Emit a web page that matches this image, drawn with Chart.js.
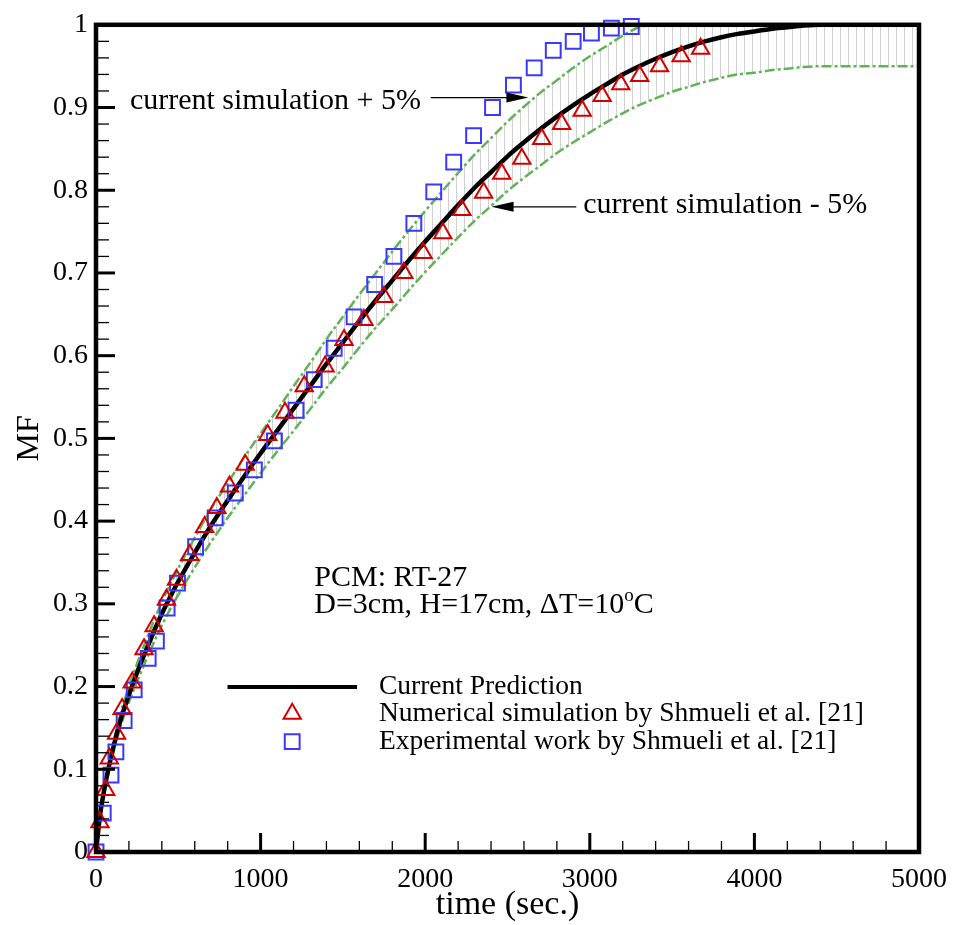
<!DOCTYPE html>
<html>
<head>
<meta charset="utf-8">
<script src="https://cdn.jsdelivr.net/npm/chart.js@4.4.1/dist/chart.umd.min.js"></script>
<style>
  body { margin: 0; background: #fff; }
</style>
</head>
<body>
<canvas id="mfChart" width="958" height="925"></canvas>
<script>
// current prediction (black curve), time in sec.
var predTime = [0, 25, 50, 75, 100, 150, 200, 250, 300, 400, 500, 600, 700, 800, 900, 1000,
  1100, 1200, 1300, 1400, 1500, 1600, 1700, 1800, 1900, 2000, 2100, 2200, 2300, 2400, 2500,
  2600, 2700, 2800, 2900, 3000, 3100, 3200, 3300, 3400, 3500, 3600, 3700, 3800, 3900, 4000,
  4100, 4200, 4300, 4400, 4500, 5000];
var predMF = [0, 0.045, 0.075, 0.1, 0.122, 0.16, 0.19, 0.217, 0.242, 0.288, 0.327, 0.362, 0.395,
  0.425, 0.454, 0.482, 0.509, 0.536, 0.563, 0.59, 0.616, 0.642, 0.667, 0.691, 0.715, 0.738,
  0.76, 0.782, 0.803, 0.822, 0.841, 0.858, 0.874, 0.889, 0.903, 0.916, 0.928, 0.94, 0.95,
  0.959, 0.967, 0.974, 0.98, 0.985, 0.989, 0.992, 0.995, 0.997, 0.999, 1, 1, 1];
// current simulation + 5% / - 5%
var upperMF = [0, 0.047, 0.079, 0.105, 0.128, 0.168, 0.2, 0.228, 0.254, 0.302, 0.343, 0.38, 0.415,
  0.446, 0.477, 0.506, 0.534, 0.563, 0.591, 0.62, 0.647, 0.674, 0.7, 0.726, 0.751, 0.775,
  0.798, 0.821, 0.843, 0.863, 0.883, 0.901, 0.918, 0.933, 0.948, 0.962, 0.974, 0.987, 0.997,
  1, 1, 1, 1, 1, 1, 1, 1, 1, 1, 1, 1, 1];
var lowerMF = [0, 0.043, 0.071, 0.095, 0.116, 0.152, 0.181, 0.206, 0.23, 0.274, 0.311, 0.344, 0.375,
  0.404, 0.431, 0.458, 0.484, 0.509, 0.535, 0.561, 0.585, 0.61, 0.634, 0.656, 0.679, 0.701,
  0.722, 0.743, 0.763, 0.781, 0.799, 0.815, 0.83, 0.845, 0.858, 0.87, 0.882, 0.893, 0.903,
  0.911, 0.919, 0.925, 0.931, 0.936, 0.94, 0.942, 0.945, 0.947, 0.949, 0.95, 0.95, 0.95];

// Numerical simulation by Shmueli et al. [21]
var numTime = [0, 24, 59, 81, 125, 159, 220, 292, 353, 428, 489, 569, 660, 734, 811, 906, 1043,
  1148, 1265, 1392, 1507, 1628, 1749, 1870, 1987, 2107, 2223, 2355, 2465, 2587, 2708, 2829,
  2954, 3075, 3188, 3303, 3424, 3555, 3673];
var numMF = [0, 0.036, 0.075, 0.113, 0.143, 0.173, 0.205, 0.245, 0.273, 0.305, 0.329, 0.359,
  0.393, 0.416, 0.442, 0.468, 0.504, 0.531, 0.563, 0.587, 0.619, 0.643, 0.671, 0.7, 0.724,
  0.748, 0.776, 0.797, 0.82, 0.838, 0.862, 0.88, 0.896, 0.914, 0.928, 0.938, 0.95, 0.962, 0.971];

// Experimental work by Shmueli et al. [21]
var expTime = [0, 44, 91, 121, 171, 232, 317, 367, 432, 495, 605, 724, 846, 962, 1084, 1215, 1326,
  1447, 1568, 1693, 1810, 1931, 2052, 2173, 2294, 2409, 2536, 2662, 2778, 2899, 3010, 3131, 3252];
var expMF = [0, 0.047, 0.093, 0.121, 0.159, 0.196, 0.234, 0.255, 0.295, 0.325, 0.369, 0.404,
  0.434, 0.462, 0.497, 0.534, 0.571, 0.609, 0.647, 0.686, 0.72, 0.76, 0.798, 0.834, 0.866,
  0.9, 0.927, 0.948, 0.969, 0.98, 0.99, 0.996, 0.998];

var xTicks = [0, 1000, 2000, 3000, 4000, 5000];
var yTicks = [0, 0.1, 0.2, 0.3, 0.4, 0.5, 0.6, 0.7, 0.8, 0.9, 1];

var serif = '"Liberation Serif", "Times New Roman", serif';

function toPoints(xs, ys) {
  return xs.map(function(x, i) { return { x: x, y: ys[i] }; });
}

var canvas = document.getElementById('mfChart');
var ctx = canvas.getContext('2d');

// vertical hatch between the +5% and -5% curves
var hc = document.createElement('canvas');
hc.width = 8; hc.height = 8;
var hg = hc.getContext('2d');
hg.fillStyle = '#d0d0d0';
hg.fillRect(0, 0, 1, 8);
var hatch = ctx.createPattern(hc, 'repeat');

var green = 'rgba(98, 178, 88, 1)';

var frameAndText = {
  id: 'frameAndText',
  afterDraw: function(chart) {
    var c = chart.ctx, xs = chart.scales.x, ys = chart.scales.y, a = chart.chartArea;
    var px = function(t) { return xs.getPixelForValue(t); };
    var py = function(v) { return ys.getPixelForValue(v); };
    c.save();

    // inward ticks
    c.strokeStyle = '#000';
    for (var t = 0; t <= 5000; t += 200) {
      var major = t % 1000 === 0;
      c.lineWidth = major ? 3 : 1.3;
      c.beginPath();
      c.moveTo(px(t), a.bottom);
      c.lineTo(px(t), a.bottom - (major ? 19 : 11));
      c.stroke();
    }
    for (var k = 0; k <= 50; k++) {
      var v = k / 50;
      var maj = k % 5 === 0;
      c.lineWidth = maj ? 3 : 1.3;
      c.beginPath();
      c.moveTo(a.left, py(v));
      c.lineTo(a.left + (maj ? 19 : 13), py(v));
      c.stroke();
    }

    // frame
    c.lineWidth = 4.5;
    c.strokeRect(a.left, a.top, a.right - a.left, a.bottom - a.top);

    // annotations
    c.fillStyle = '#000';
    c.textBaseline = 'middle';
    c.textAlign = 'left';
    c.font = '30px ' + serif;
    c.fillText('current simulation + 5%', px(206), py(0.9075));
    c.fillText('current simulation - 5%', px(2960), py(0.7825));

    function arrow(t1, v1, t2, v2) {
      var x1 = px(t1), y1 = py(v1), x2 = px(t2), y2 = py(v2);
      var dir = x2 > x1 ? 1 : -1;
      c.lineWidth = 1.3;
      c.beginPath();
      c.moveTo(x1, y1);
      c.lineTo(x2 - dir * 16, y2);
      c.stroke();
      c.beginPath();
      c.moveTo(x2, y2);
      c.lineTo(x2 - dir * 22, y2 - 5);
      c.lineTo(x2 - dir * 22, y2 + 5);
      c.closePath();
      c.fill();
    }
    arrow(2034, 0.912, 2627, 0.912);
    arrow(2918, 0.78, 2403, 0.78);

    c.font = '30px ' + serif;
    c.fillText('PCM: RT-27', px(1326), py(0.3305));
    var base = 'D=3cm, H=17cm, \u0394T=10';
    var bx = px(1326), by = py(0.298);
    c.fillText(base, bx, by);
    var w = c.measureText(base).width;
    c.font = '19px ' + serif;
    c.fillText('o', bx + w, by - 9);
    var wo = c.measureText('o').width;
    c.font = '30px ' + serif;
    c.fillText('C', bx + w + wo, by);

    // legend
    c.font = '27.5px ' + serif;
    c.strokeStyle = '#000';
    c.lineWidth = 4;
    c.beginPath();
    c.moveTo(px(799), py(0.1995));
    c.lineTo(px(1586), py(0.1995));
    c.stroke();
    c.fillText('Current Prediction', px(1719), py(0.1995));
    c.fillStyle = 'rgba(0,0,0,0)';
    c.strokeStyle = '#d40000';
    c.lineWidth = 2;
    Chart.helpers.drawPoint(c, { pointStyle: 'triangle', radius: 10, rotation: 0, borderWidth: 2 }, px(1192), py(0.167));
    c.strokeStyle = '#3838ff';
    Chart.helpers.drawPoint(c, { pointStyle: 'rect', radius: 10.5, rotation: 0, borderWidth: 2 }, px(1192), py(0.1334));
    c.fillStyle = '#000';
    c.fillText('Numerical simulation by Shmueli et al. [21]', px(1719), py(0.167));
    c.fillText('Experimental work by Shmueli et al. [21]', px(1719), py(0.1334));

    c.restore();
  }
};

var chart = new Chart(ctx, {
  type: 'scatter',
  data: {
    datasets: [
      {
        label: 'Numerical simulation by Shmueli et al. [21]',
        data: toPoints(numTime, numMF),
        pointStyle: 'triangle',
        pointRadius: 10,
        pointBorderWidth: 2,
        pointBorderColor: '#d40000',
        pointBackgroundColor: 'rgba(0,0,0,0)',
        clip: false
      },
      {
        label: 'Experimental work by Shmueli et al. [21]',
        data: toPoints(expTime, expMF),
        pointStyle: 'rect',
        pointRadius: 10.5,
        pointBorderWidth: 2,
        pointBorderColor: '#3838ff',
        pointBackgroundColor: 'rgba(0,0,0,0)',
        clip: false
      },
      {
        label: 'Current Prediction',
        data: toPoints(predTime, predMF),
        showLine: true,
        borderColor: '#000',
        borderWidth: 4.5,
        pointRadius: 0,
        cubicInterpolationMode: 'monotone'
      },
      {
        label: 'current simulation + 5%',
        data: toPoints(predTime, upperMF),
        showLine: true,
        borderColor: green,
        borderWidth: 2.5,
        borderDash: [10, 3, 3, 3],
        pointRadius: 0,
        cubicInterpolationMode: 'monotone',
        fill: { target: '+1' },
        backgroundColor: hatch
      },
      {
        label: 'current simulation - 5%',
        data: toPoints(predTime, lowerMF),
        showLine: true,
        borderColor: green,
        borderWidth: 2.5,
        borderDash: [10, 3, 3, 3],
        pointRadius: 0,
        cubicInterpolationMode: 'monotone'
      }
    ]
  },
  options: {
    responsive: false,
    animation: false,
    layout: { padding: { left: 0, top: 20, right: 36, bottom: 0 } },
    plugins: {
      legend: { display: false },
      tooltip: { enabled: false },
      filler: { drawTime: 'beforeDatasetsDraw' }
    },
    scales: {
      x: {
        type: 'linear',
        min: 0,
        max: 5000,
        afterFit: function(s) { s.height = 73; },
        afterBuildTicks: function(s) { s.ticks = xTicks.map(function(v) { return { value: v }; }); },
        grid: { display: false, drawTicks: false },
        border: { display: false },
        ticks: {
          color: '#000',
          padding: 11,
          maxRotation: 0,
          font: { family: serif, size: 28 },
          callback: function(v) { return String(v); }
        },
        title: {
          display: true,
          text: 'time (sec.)',
          color: '#000',
          padding: { top: 0, bottom: 0 },
          font: { family: serif, size: 34 }
        }
      },
      y: {
        type: 'linear',
        min: 0,
        max: 1,
        afterFit: function(s) { s.width = 96; },
        afterBuildTicks: function(s) { s.ticks = yTicks.map(function(v) { return { value: v }; }); },
        grid: { display: false, drawTicks: false },
        border: { display: false },
        ticks: {
          color: '#000',
          padding: 8,
          font: { family: serif, size: 28 },
          callback: function(v) { return String(+v.toFixed(1)); }
        },
        title: {
          display: true,
          text: 'MF',
          color: '#000',
          padding: { top: 10, bottom: 0 },
          font: { family: serif, size: 32 }
        }
      }
    }
  },
  plugins: [frameAndText]
});
</script>
</body>
</html>
